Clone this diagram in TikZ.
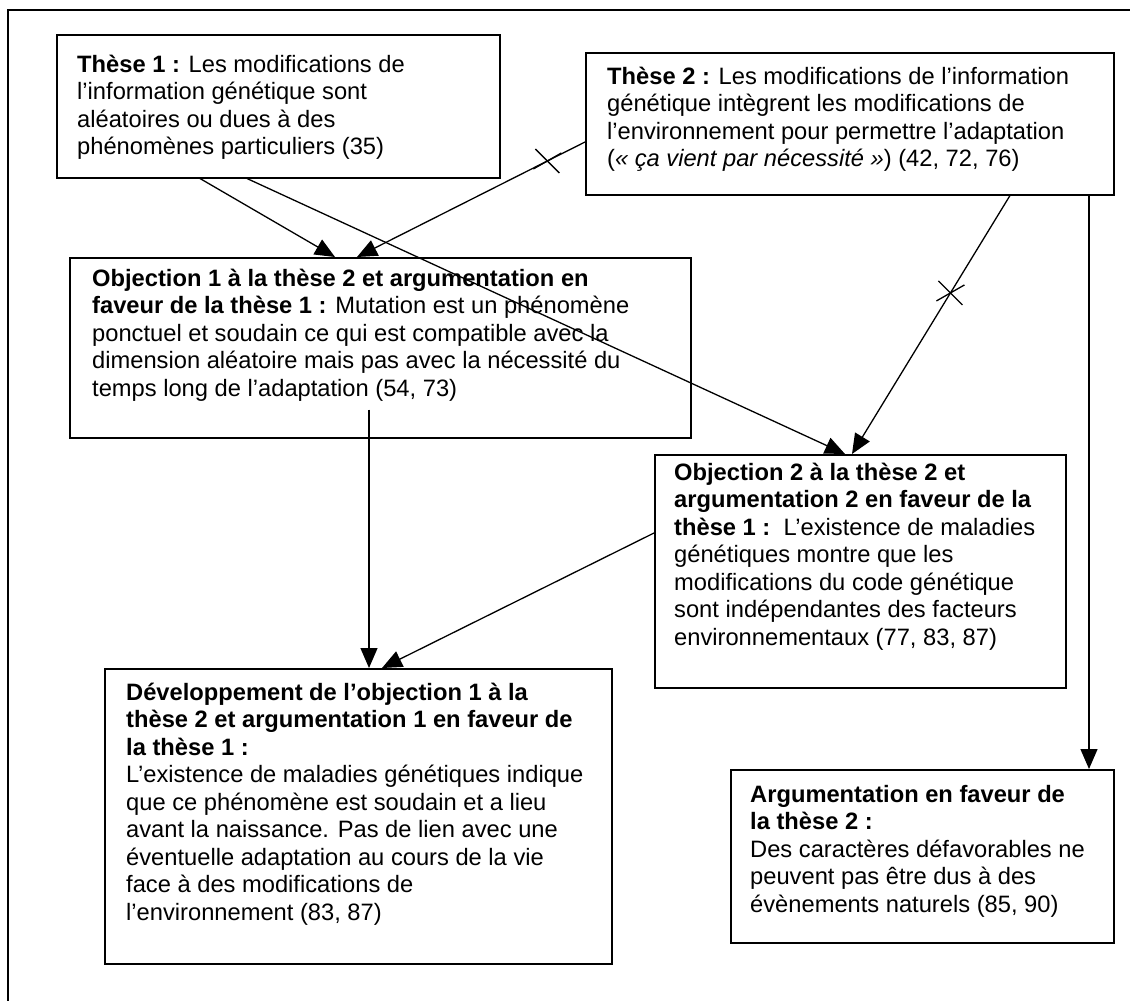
\documentclass[tikz,border=0pt]{standalone}
\usepackage{fontspec}
\setmainfont{Liberation Sans}
\usetikzlibrary{arrows.meta,calc}
\newcommand\firstlinestrut{\rule{0pt}{20pt}}
\begin{document}
\begin{tikzpicture}[x=1pt,y=-1pt,
  frameline/.style={line width=2pt},
  box/.style={draw,line width=1.5pt,rectangle,anchor=north west,inner sep=0pt},
  txt/.style={anchor=north west,inner sep=0pt,align=left,font=\fontsize{23.7}{27.5}\selectfont},
  conn/.style={line width=1.3pt,-{Triangle[length=20pt,width=17pt]}},
  plain/.style={line width=1.3pt},
  xmark/.style={line width=1.3pt}]
\useasboundingbox (0,0) rectangle (1130,1001);
\fill[white] (0,0) rectangle (1130,1001);
% outer frame
\draw[frameline] (8,1001) -- (8,10) -- (1130,10);
% boxes
\node[box,minimum width=443pt,minimum height=143pt] (t1) at (56,34) {};
\node[box,minimum width=528pt,minimum height=142pt] (t2) at (585,52) {};
\node[box,minimum width=621pt,minimum height=180pt] (o1) at (69,257) {};
\node[box,minimum width=411pt,minimum height=233pt] (o2) at (654,454) {};
\node[box,minimum width=507pt,minimum height=295pt] (dev) at (104,668) {};
\node[box,minimum width=383pt,minimum height=173pt] (arg) at (730,769) {};
% texts
\node[txt] (t1txt) at (77,52) {\firstlinestrut\textbf{Thèse 1 :} Les modifications de\\
l’information génétique sont\\
aléatoires ou dues à des\\
phénomènes particuliers (35)};
\node[txt] (t2txt) at (607,64) {\firstlinestrut\textbf{Thèse 2 :} Les modifications de l’information\\
génétique intègrent les modifications de\\
l’environnement pour permettre l’adaptation\\
(\textit{« ça vient par nécessité »}) (42, 72, 76)};
\node[txt] (o1txt) at (92,266) {\firstlinestrut\textbf{Objection 1 à la thèse 2 et argumentation en}\\
\textbf{faveur de la thèse 1 :} Mutation est un phénomène\\
ponctuel et soudain ce qui est compatible avec la\\
dimension aléatoire mais pas avec la nécessité du\\
temps long de l’adaptation (54, 73)};
\node[txt] (o2txt) at (674,460) {\firstlinestrut\textbf{Objection 2 à la thèse 2 et}\\
\textbf{argumentation 2 en faveur de la}\\
\textbf{thèse 1 :}\ \ L’existence de maladies\\
génétiques montre que les\\
modifications du code génétique\\
sont indépendantes des facteurs\\
environnementaux (77, 83, 87)};
\node[txt] (devtxt) at (126,680) {\firstlinestrut\textbf{Développement de l’objection 1 à la}\\
\textbf{thèse 2 et argumentation 1 en faveur de}\\
\textbf{la thèse 1 :}\\
L’existence de maladies génétiques indique\\
que ce phénomène est soudain et a lieu\\
avant la naissance. Pas de lien avec une\\
éventuelle adaptation au cours de la vie\\
face à des modifications de\\
l’environnement (83, 87)};
\node[txt] (argtxt) at (750,782) {\firstlinestrut\textbf{Argumentation en faveur de}\\
\textbf{la thèse 2 :}\\
Des caractères défavorables ne\\
peuvent pas être dus à des\\
évènements naturels (85, 90)};
% connectors
\draw[conn] ([xshift=144pt]t1.south west) -- ([xshift=266pt]o1.north west);
\draw[conn] ([xshift=191pt]t1.south west) -- ([xshift=191pt]o2.north west);
\draw[conn] ([yshift=-90pt]t2.north west) -- coordinate[pos=0.165] (xa) ([xshift=288pt]o1.north west);
\draw[conn] ([xshift=425pt]t2.south west) -- coordinate[pos=0.377] (xb) ([xshift=198pt]o2.north west);
\draw[conn] ([xshift=504pt]t2.south west) -- ([xshift=359pt]arg.north west);
\draw[conn] ([xshift=300pt,yshift=29pt]o1.south west) -- ([xshift=265pt]dev.north west);
\draw[conn] ([yshift=-79pt]o2.north west) -- ([xshift=278pt]dev.north west);
% crossing marks
\draw[xmark] ($(xa)+(-12,-12)$) -- ($(xa)+(12,12)$);
\draw[xmark] ($(xa)+(-14,8)$) -- ($(xa)+(14,-8)$);
\draw[xmark] ($(xb)+(-12,-12)$) -- ($(xb)+(12,12)$);
\draw[xmark] ($(xb)+(-14,8)$) -- ($(xb)+(14,-8)$);
\end{tikzpicture}
\end{document}
